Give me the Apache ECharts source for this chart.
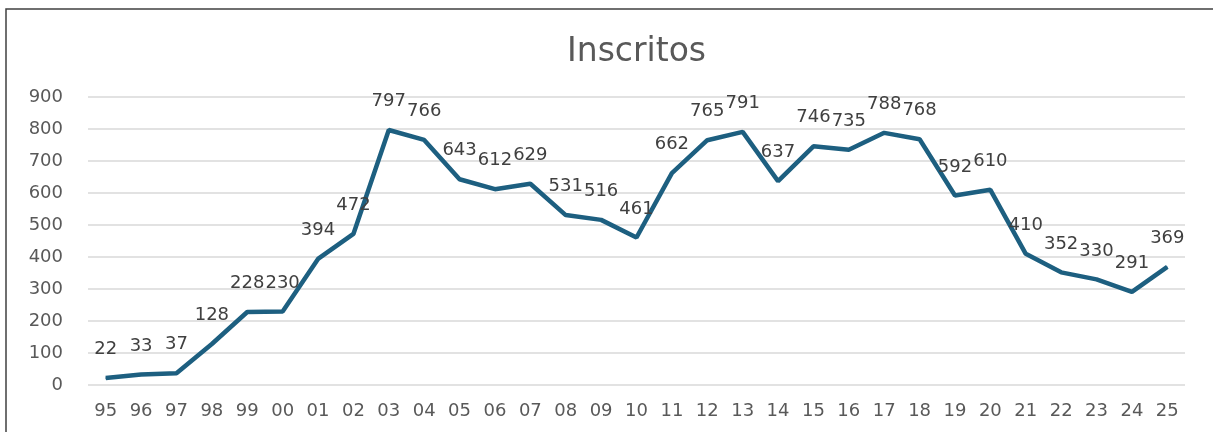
<!DOCTYPE html>
<html>
<head>
<meta charset="utf-8">
<script src="https://cdn.jsdelivr.net/npm/echarts@6/dist/echarts.min.js"></script>
<style>
  html, body { margin: 0; padding: 0; background: #fff; }
  #chart { width: 1213px; height: 432px; }
</style>
</head>
<body>
<div id="chart"></div>
<script>
// 年份（两位数）
var years = ['95', '96', '97', '98', '99', '00', '01', '02', '03', '04', '05', '06', '07', '08', '09', '10',
  '11', '12', '13', '14', '15', '16', '17', '18', '19', '20', '21', '22', '23', '24', '25']
// 每年的注册人数
var inscritos = [22, 33, 37, 128, 228, 230, 394, 472, 797, 766, 643, 612, 629, 531, 516, 461,
  662, 765, 791, 637, 746, 735, 788, 768, 592, 610, 410, 352, 330, 291, 369]
var yTicks = [0, 100, 200, 300, 400, 500, 600, 700, 800, 900]

var chart = echarts.init(document.getElementById('chart'))
chart.setOption({
  backgroundColor: '#fff',
  animation: false,
  title: {
    text: 'Inscritos',
    left: 562,
    top: 31,
    textStyle: {
      fontFamily: 'DejaVu Sans',
      fontWeight: 'normal',
      fontSize: 33,
      color: '#595959'
    }
  },
  graphic: [{
    type: 'polyline',
    shape: { points: [[6, 432], [6, 9], [1213, 9]] },
    style: { stroke: '#404040', lineWidth: 1.5, fill: null }
  }],
  grid: {
    top: 97,
    left: 88,
    right: 28,
    bottom: 47
  },
  xAxis: {
    type: 'category',
    data: years,
    boundaryGap: true,
    axisLine: { show: false },
    axisTick: { show: false },
    axisLabel: {
      interval: 0,
      margin: 17,
      fontFamily: 'DejaVu Sans',
      fontSize: 18,
      color: '#595959'
    }
  },
  yAxis: {
    type: 'value',
    min: yTicks[0],
    max: yTicks[yTicks.length - 1],
    interval: 100,
    axisLine: { show: false },
    axisTick: { show: false },
    axisLabel: {
      margin: 25,
      fontFamily: 'DejaVu Sans',
      fontSize: 18,
      color: '#595959'
    },
    splitLine: {
      lineStyle: { color: '#d9d9d9', width: 1.5 }
    }
  },
  series: [{
    name: 'Inscritos',
    type: 'line',
    data: inscritos,
    symbol: 'circle',
    symbolSize: 1,
    showSymbol: true,
    itemStyle: { color: '#1d5f80' },
    lineStyle: { color: '#1d5f80', width: 4.5 },
    label: {
      show: true,
      position: 'top',
      distance: 19,
      fontFamily: 'DejaVu Sans',
      fontSize: 18,
      color: '#404040'
    }
  }]
})
</script>
</body>
</html>
